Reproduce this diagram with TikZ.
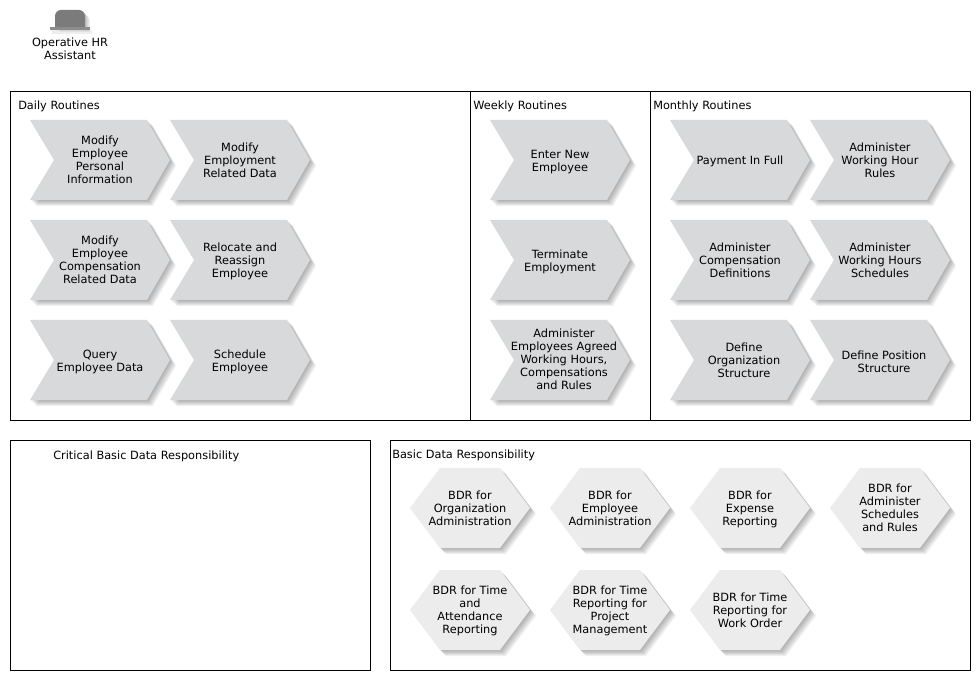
\documentclass[tikz,border=0pt]{standalone}
\usepackage{fontspec}
\setmainfont{DejaVu Sans}
\tikzset{
  x=0.75pt,y=-0.75pt,
  frame/.style={draw=black,line width=0.75pt,fill=white},
  lbl/.style={font=\fontsize{8.5}{9.75}\selectfont,inner sep=0pt,align=center,text=black},
  ttl/.style={font=\fontsize{8.5}{9.75}\selectfont,inner sep=0pt,anchor=west,text=black},
  chevfill/.style={fill=chevcol},
  hexfill/.style={fill=hexcol},
  shade1/.style={fill=black,fill opacity=0.055}
}
\definecolor{chevcol}{HTML}{D8D9DB}
\definecolor{hexcol}{HTML}{ECECEC}
\definecolor{hatcol}{HTML}{7B7B7B}
\definecolor{brimcol}{HTML}{8C8C8C}
\newcommand{\softshadow}[1]{%
  \foreach \d in {1,2,3,4,5,6}{\begin{scope}[shift={(\d,\d)}]\path[shade1] #1;\end{scope}}%
}
\newcommand{\even}[1]{\rule{0pt}{7pt}#1\rule[-2pt]{0pt}{0pt}}
\def\txo{70}
\def\tyo{41}
\newcommand{\chevshape}[4]{%
  \begin{scope}[shift={(#2,#3)}]
    \softshadow{(0,0) -- (117,0) -- (140,40) -- (117,80) -- (0,80) -- (24,40) -- cycle}
    \path[chevfill] (0,0) -- (117,0) -- (140,40) -- (117,80) -- (0,80) -- (24,40) -- cycle;
    \node[lbl] (#1) at (\txo,\tyo) {\even{#4}};
  \end{scope}}
\newcommand{\hexshape}[4]{%
  \begin{scope}[shift={(#2,#3)}]
    \softshadow{(0,40) -- (30,0) -- (90,0) -- (120,40) -- (90,80) -- (30,80) -- cycle}
    \path[hexfill] (0,40) -- (30,0) -- (90,0) -- (120,40) -- (90,80) -- (30,80) -- cycle;
    \node[lbl] (#1) at (60,\tyo) {\even{#4}};
  \end{scope}}
\begin{document}
\begin{tikzpicture}
\useasboundingbox (0,0) rectangle (980,680);
\fill[white] (0,0) rectangle (980,680);
% role icon
\foreach \d in {1,2,3,4,5}{\fill[black,fill opacity=0.05] (55+\d,27+\d) -- (55+\d,16+\d) .. controls (55+\d,12.7+\d) and (57.7+\d,10+\d) .. (61+\d,10+\d) -- (79+\d,10+\d) .. controls (82.3+\d,10+\d) and (85+\d,12.7+\d) .. (85+\d,16+\d) -- (85+\d,27+\d) -- cycle;}
\fill[black,fill opacity=0.07] (52,30) rectangle (92,34);
\fill[hatcol] (55,27) -- (55,16) .. controls (55,12.7) and (57.7,10) .. (61,10) -- (79,10) .. controls (82.3,10) and (85,12.7) .. (85,16) -- (85,27) -- cycle;
\fill[brimcol] (50,27) rectangle (90,30);
\node[lbl] (role) at (70,49.5) {\even{Operative HR\\Assistant}};
% frames
\draw[frame] (10.5,91.5) rectangle (470.5,420.5);
\draw[frame] (470.5,91.5) rectangle (650.5,420.5);
\draw[frame] (650.5,91.5) rectangle (970.5,420.5);
\draw[frame] (10.5,440.5) rectangle (370.5,670.5);
\draw[frame] (390.5,440.5) rectangle (970.5,670.5);
\node[ttl] (tdaily) at (18,106.5) {Daily Routines};
\node[ttl] (tweekly) at (473,106.5) {Weekly Routines};
\node[ttl] (tmonthly) at (653,106.5) {Monthly Routines};
\node[ttl] (tcrit) at (53,456.5) {Critical Basic Data Responsibility};
\node[ttl] (tbasic) at (392,455.5) {Basic Data Responsibility};
% daily
\chevshape{d1}{30}{120}{Modify\\Employee\\Personal\\Information}
\chevshape{d2}{170}{120}{Modify\\Employment\\Related Data}
\chevshape{d3}{30}{220}{Modify\\Employee\\Compensation\\Related Data}
\chevshape{d4}{170}{220}{Relocate and\\Reassign\\Employee}
\def\tyo{42}
\chevshape{d5}{30}{320}{Query\\Employee Data}
\chevshape{d6}{170}{320}{Schedule\\Employee}
% weekly
\chevshape{w1}{490}{120}{Enter New\\Employee}
\chevshape{w2}{490}{220}{Terminate\\Employment}
\def\tyo{40.5}
\def\txo{74}
\chevshape{w3}{490}{320}{Administer\\Employees Agreed\\Working Hours,\\Compensations\\and Rules}
\def\txo{70}
\def\tyo{41}
% monthly
\chevshape{m1}{670}{120}{Payment In Full}
\chevshape{m2}{810}{120}{Administer\\Working Hour\\Rules}
\chevshape{m3}{670}{220}{Administer\\Compensation\\Definitions}
\chevshape{m4}{810}{220}{Administer\\Working Hours\\Schedules}
\def\txo{74}
\chevshape{m5}{670}{320}{Define\\Organization\\Structure}
\def\tyo{43}
\chevshape{m6}{810}{320}{Define Position\\Structure}
\def\txo{70}
\def\tyo{41}
% basic data
\hexshape{b1}{410}{468}{BDR for\\Organization\\Administration}
\hexshape{b2}{550}{468}{BDR for\\Employee\\Administration}
\hexshape{b3}{690}{468}{BDR for\\Expense\\Reporting}
\hexshape{b4}{830}{468}{BDR for\\Administer\\Schedules\\and Rules}
\hexshape{b5}{410}{570}{BDR for Time\\and\\Attendance\\Reporting}
\hexshape{b6}{550}{570}{BDR for Time\\Reporting for\\Project\\Management}
\hexshape{b7}{690}{570}{BDR for Time\\Reporting for\\Work Order}
\end{tikzpicture}
\end{document}
